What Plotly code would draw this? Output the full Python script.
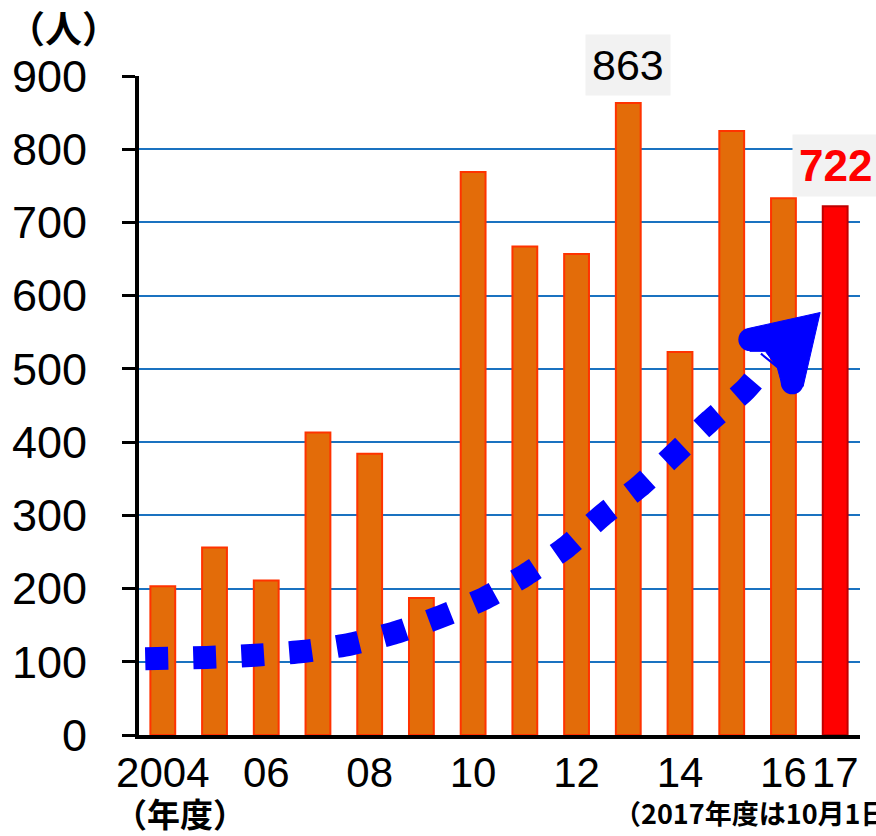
import plotly.graph_objects as go

# ---- data ----
years = [2004, 2005, 2006, 2007, 2008, 2009, 2010, 2011, 2012, 2013, 2014, 2015, 2016, 2017]
counts = [203, 256, 211, 413, 384, 187, 769, 667, 657, 863, 523, 825, 733, 722]
tick_vals = [2004, 2006, 2008, 2010, 2012, 2014, 2016, 2017]
tick_text = ["2004", "06", "08", "10", "12", "14", "16", "17"]
y_ticks = [0, 100, 200, 300, 400, 500, 600, 700, 800, 900]

# hand-drawn trend arrow (in data units)
trend_x = [2003.66, 2004.85, 2005.79, 2006.7, 2007.62, 2008.5, 2009.35, 2010.23, 2011.02, 2011.81, 2012.5, 2013.21, 2013.9, 2014.58, 2015.27, 2015.75]
trend_y = [104, 106, 109, 114, 124, 140, 161, 187, 219, 257, 300, 339, 384, 429, 472, 512]
head_x = [2016.71, 2015.31, 2015.35, 2015.65, 2015.88, 2015.96, 2016.38, 2016.71]
head_y = [577, 555, 524, 524, 502, 481, 476, 577]
cap_x = [2015.35, 2016.17]
cap_y = [540, 481]

bar_colors = ["#E36C09"] * (len(years) - 1) + ["#FF0000"]
line_colors = ["#FF3300"] * (len(years) - 1) + ["#C00000"]

BLUE = "#0000FF"
NUM_FONT = "Liberation Sans, Arial, sans-serif"
JP_FONT = "Noto Sans CJK JP, sans-serif"

fig = go.Figure()
fig.add_trace(go.Bar(
    x=years, y=counts, width=0.48,
    marker=dict(color=bar_colors, line=dict(color=line_colors, width=2)),
    hoverinfo="x+y",
))
fig.add_trace(go.Scatter(
    x=trend_x, y=trend_y, mode="lines",
    line=dict(color=BLUE, width=23, dash="23px,25px", shape="spline", smoothing=0.6),
    hoverinfo="skip",
))
fig.add_trace(go.Scatter(
    x=head_x, y=head_y, mode="lines", fill="toself", fillcolor=BLUE,
    line=dict(color=BLUE, width=1), hoverinfo="skip",
))
fig.add_trace(go.Scatter(
    x=cap_x, y=cap_y, mode="markers",
    marker=dict(color=BLUE, size=23, symbol="circle", line=dict(width=0)),
    hoverinfo="skip",
))

ann = [
    dict(text="<b>（人）</b>", xref="paper", yref="paper", x=-0.185, y=1.074,
         xanchor="left", yanchor="middle", showarrow=False,
         font=dict(family=JP_FONT, size=37, color="black")),
    dict(text="<b>（年度）</b>", xref="paper", yref="paper", x=-0.038, y=-0.118,
         xanchor="left", yanchor="middle", showarrow=False,
         font=dict(family=JP_FONT, size=33, color="black")),
    dict(text="<b>（2017年度は10月1日時点）</b>", xref="paper", yref="paper", x=0.656, y=-0.118,
         xanchor="left", yanchor="middle", showarrow=False,
         font=dict(family=JP_FONT, size=27, color="black")),
    dict(text=str(counts[years.index(2013)]), x=2013, y=counts[years.index(2013)],
         xanchor="center", yanchor="bottom", yshift=7, showarrow=False,
         bgcolor="#F2F2F2", borderpad=6,
         font=dict(family=NUM_FONT, size=43, color="black")),
    dict(text="<b>" + str(counts[-1]) + "</b>", x=2017, y=counts[-1],
         xanchor="center", yanchor="bottom", yshift=9, showarrow=False,
         bgcolor="#F2F2F2", borderpad=6,
         font=dict(family=NUM_FONT, size=44, color="#FF0000")),
]

fig.update_layout(
    width=876, height=836,
    margin=dict(l=135, r=16, t=76, b=101),
    paper_bgcolor="white", plot_bgcolor="white",
    showlegend=False,
    annotations=ann,
    xaxis=dict(
        range=[2003.54, 2017.48], tickmode="array", tickvals=tick_vals, ticktext=tick_text,
        showline=True, linecolor="black", linewidth=4, showgrid=False, zeroline=False,
        ticks="", ticklabelstandoff=-2,
        tickfont=dict(family=NUM_FONT, size=42, color="black"),
    ),
    yaxis=dict(
        range=[0, 900], tickmode="array", tickvals=y_ticks,
        showline=True, linecolor="black", linewidth=4,
        showgrid=True, gridcolor="#1A72C0", gridwidth=2, zeroline=False,
        ticks="outside", ticklen=13, tickwidth=3, tickcolor="black",
        ticklabelstandoff=26,
        tickfont=dict(family=NUM_FONT, size=45, color="black"),
    ),
)

fig.write_html("out.html")
